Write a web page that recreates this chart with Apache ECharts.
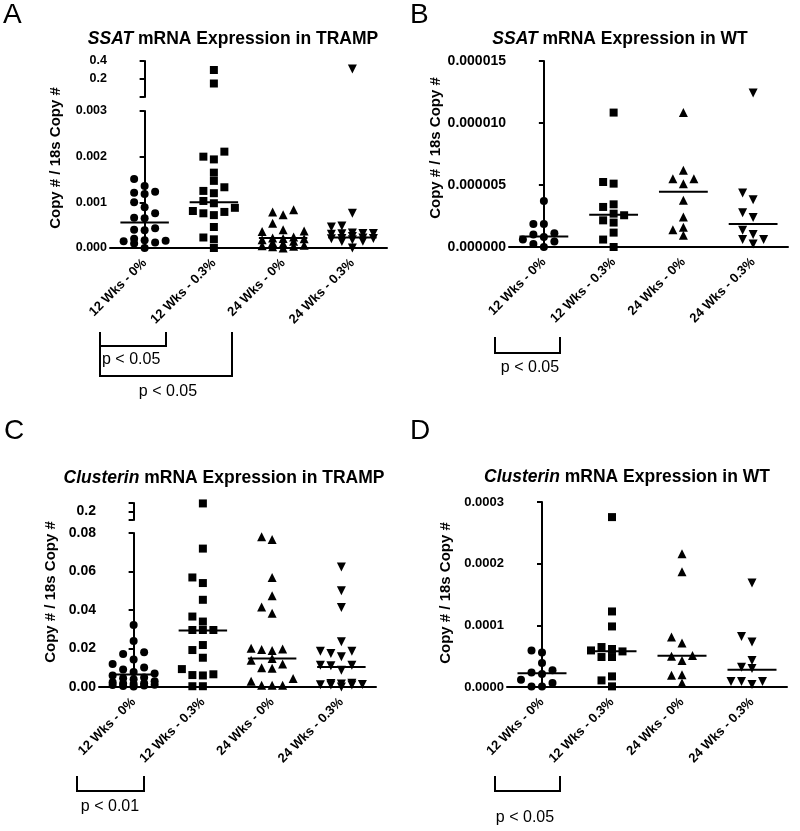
<!DOCTYPE html>
<html>
<head>
<meta charset="utf-8">
<title>SSAT and Clusterin mRNA expression</title>
<script src="https://cdn.jsdelivr.net/npm/echarts@6/dist/echarts.min.js"></script>
<style>
  html, body { margin: 0; padding: 0; background: #fff; }
  #chart { width: 800px; height: 831px; }
</style>
</head>
<body>
<div id="chart"></div>
<script>
const categories = ['12 Wks - 0%', '12 Wks - 0.3%', '24 Wks - 0%', '24 Wks - 0.3%'];

// A - SSAT in TRAMP
const ssatTramp12w0 = [0.00151, 0.00136, 0.00123, 0.00121, 0.00118, 0.00100, 0.00089, 0.00076, 0.00066, 0.00065,
  0.00043, 0.00040, 0.00039, 0.00020, 0.00017, 0.00016, 0.00015, 0.00012, 0.00010, 0.0];
const ssatTramp12w03 = [0.30, 0.15, 0.00211, 0.00200, 0.00194, 0.00165, 0.00147, 0.00133, 0.00125, 0.00120,
  0.00103, 0.00098, 0.00088, 0.00081, 0.00079, 0.00076, 0.00072, 0.00046, 0.00023, 0.00019, 0.0];
const ssatTramp24w0 = [0.00084, 0.00079, 0.00073, 0.00054, 0.00040, 0.00037, 0.00036, 0.00024, 0.00022, 0.00021,
  0.00020, 0.00018, 0.00015, 0.00012, 0.00010, 0.00006, 0.00005, 0.00004, 0.00003, 0.0];
const ssatTramp24w03 = [0.31, 0.00076, 0.00048, 0.00046, 0.00033, 0.00032, 0.00032, 0.00031, 0.00030, 0.00025,
  0.00022, 0.00021, 0.00021, 0.00020, 0.00018, 0.00015, 0.00014, 0.0];
const ssatTrampMedian = [0.00056, 0.00100, 0.00022, 0.00023];

// B - SSAT in WT
const ssatWt12w0 = [0.0000037, 0.00000185, 0.00000185, 0.0000011, 0.0000010, 0.0000008, 0.0000006, 0.00000045, 0.00000025, 0.0];
const ssatWt12w03 = [0.00001084, 0.00000524, 0.00000511, 0.00000344, 0.00000323, 0.00000269, 0.00000256, 0.00000215,
  0.00000197, 0.00000116, 0.0000006, 0.0];
const ssatWt24w0 = [0.00001084, 0.00000618, 0.0000055, 0.0000055, 0.0000051, 0.00000377, 0.00000242, 0.0000016, 0.0000014, 0.00000094];
const ssatWt24w03 = [0.00001242, 0.00000435, 0.00000382, 0.00000277, 0.00000237, 0.00000135, 0.0000010, 0.0000006, 0.0000006, 0.00000025];
const ssatWtMedian = [0.00000085, 0.0000026, 0.00000445, 0.00000185];

// C - Clusterin in TRAMP
const clusTramp12w0 = [0.0322, 0.0239, 0.0180, 0.0171, 0.0143, 0.0119, 0.0101, 0.0091, 0.0078, 0.0070, 0.0060, 0.0050,
  0.0045, 0.0040, 0.0030, 0.0025, 0.0020, 0.0018, 0.0015, 0.0012, 0.0010, 0.0008, 0.0005, 0.0003];
const clusTramp12w03 = [0.295, 0.0719, 0.0569, 0.0540, 0.0453, 0.0366, 0.0340, 0.0296, 0.0296, 0.0296, 0.0218, 0.0192,
  0.0152, 0.0093, 0.0066, 0.0062, 0.0060, 0.0004, 0.0004];
const clusTramp24w0 = [0.0780, 0.0766, 0.0569, 0.0474, 0.0415, 0.0383, 0.0201, 0.0198, 0.0195, 0.0190, 0.0148, 0.0139,
  0.0119, 0.0100, 0.0098, 0.0044, 0.0030, 0.0009, 0.0009, 0.0009];
const clusTramp24w03 = [0.0623, 0.0500, 0.0413, 0.0235, 0.0186, 0.0186, 0.0174, 0.0157, 0.0113, 0.0113, 0.0111, 0.0087,
  0.0020, 0.0018, 0.0015, 0.0013, 0.0012, 0.0011, 0.0010, 0.0];
const clusTrampMedian = [0.0065, 0.0293, 0.0148, 0.0104];

// D - Clusterin in WT
const clusWt12w0 = [0.0000593, 0.000056, 0.000039, 0.000027, 0.0000237, 0.000021, 0.0000118, 0.0000065, 0.000001, 0.000001];
const clusWt12w03 = [0.0002755, 0.0001225, 0.0000982, 0.0000648, 0.0000616, 0.0000593, 0.0000577, 0.0000486, 0.0000486,
  0.0000172, 0.0000107, 0.000001];
const clusWt24w0 = [0.000216, 0.000187, 0.000081, 0.0000713, 0.000051, 0.00005, 0.000043, 0.00002, 0.000019, 0.0000065];
const clusWt24w03 = [0.0001686, 0.000082, 0.000073, 0.000043, 0.000032, 0.00003, 0.000009, 0.000009, 0.000009, 0.000004];
const clusWtMedian = [0.0000225, 0.000058, 0.0000505, 0.000028];

const FONT = '"Liberation Sans", Arial, Helvetica, sans-serif';
const symbols = ['circle', 'rect', 'triangle', 'triangle'];
const rotations = [0, 0, 0, 180];
const sizes = [8, 8, 9, 9];

// y segments listed bottom first; a second entry is the part above the axis break
const panels = [
  {
    groups: [ssatTramp12w0, ssatTramp12w03, ssatTramp24w0, ssatTramp24w03], medians: ssatTrampMedian, labelSize: 12.5,
    segs: [
      { left: 110, top: 111, width: 277, height: 137, min: 0, max: 0.003, interval: 0.001, fmt: v => v.toFixed(3) },
      { left: 110, top: 61, width: 277, height: 36, min: 0, max: 0.4, interval: 0.2, fmt: v => (v === 0 ? '' : v.toFixed(1)) }
    ]
  },
  {
    groups: [ssatWt12w0, ssatWt12w03, ssatWt24w0, ssatWt24w03], medians: ssatWtMedian, labelSize: 14,
    segs: [
      { left: 509, top: 61, width: 279, height: 186, min: 0, max: 0.000015, interval: 0.000005, fmt: v => v.toFixed(6) }
    ]
  },
  {
    groups: [clusTramp12w0, clusTramp12w03, clusTramp24w0, clusTramp24w03], medians: clusTrampMedian, labelSize: 14,
    segs: [
      { left: 99, top: 533, width: 277, height: 154, min: 0, max: 0.08, interval: 0.02, fmt: v => v.toFixed(2) },
      { left: 99, top: 503, width: 277, height: 17, min: 0.1, max: 0.3, interval: 0.1, fmt: v => (Math.abs(v - 0.2) < 1e-9 ? '0.2' : '') }
    ]
  },
  {
    groups: [clusWt12w0, clusWt12w03, clusWt24w0, clusWt24w03], medians: clusWtMedian, labelSize: 13,
    segs: [
      { left: 507, top: 502, width: 280, height: 185, min: 0, max: 0.0003, interval: 0.0001, fmt: v => v.toFixed(4) }
    ]
  }
];

// spread points that would overlap sideways, like a dot plot (at most two columns each side)
function swarm(vals, min, max, hPx, bandPx) {
  const step = 10.5, gap = 8;
  const cand = [0, -1, 1, -2, 2];
  const order = vals.map((v, i) => i).sort((a, b) => vals[a] - vals[b]);
  const placed = [];
  const out = new Array(vals.length);
  order.forEach(i => {
    const py = (vals[i] - min) / (max - min) * hPx;
    let best = 0, bestD = -1;
    for (const m of cand) {
      const px = m * step;
      let d = Infinity;
      placed.forEach(p => {
        if (Math.abs(p.px - px) < gap && Math.abs(p.py - py) < gap) d = Math.min(d, Math.hypot(p.px - px, p.py - py));
      });
      if (d === Infinity) { best = px; bestD = d; break; }
      if (d > bestD) { bestD = d; best = px; }
    }
    placed.push({ px: best, py });
    out[i] = best / bandPx;
  });
  return out;
}

const grids = [], xAxes = [], yAxes = [], series = [];

panels.forEach(p => {
  const segAxes = [];
  p.segs.forEach((s, k) => {
    const gi = grids.length;
    grids.push({ left: s.left, top: s.top, width: s.width, height: s.height });
    const yi = yAxes.length;
    yAxes.push({
      type: 'value', gridIndex: gi, min: s.min, max: s.max, interval: s.interval,
      axisLine: { show: true, lineStyle: { color: '#000', width: 2 } },
      axisTick: { show: true, length: 5, lineStyle: { color: '#000', width: 2 } },
      axisLabel: { color: '#000', fontWeight: 'bold', fontSize: p.labelSize, fontFamily: FONT, margin: 3, formatter: s.fmt },
      splitLine: { show: false }
    });
    if (k === 0) {
      xAxes.push({
        type: 'category', gridIndex: gi, data: categories,
        axisLine: { lineStyle: { color: '#000', width: 2 } },
        axisTick: { alignWithLabel: true, length: 5, lineStyle: { color: '#000', width: 1.5 } },
        axisLabel: { rotate: 45, interval: 0, margin: 13, color: '#000', fontWeight: 'bold', fontSize: 13, fontFamily: FONT }
      });
    }
    const xi = xAxes.length;
    xAxes.push({ type: 'value', gridIndex: gi, min: -0.5, max: 3.5, show: false });
    segAxes.push({ xi, yi, s });
  });

  const band = p.segs[0].width / 4;
  p.groups.forEach((vals, g) => {
    segAxes.forEach((seg, k) => {
      const lo = k === 0 ? -Infinity : p.segs[k - 1].max;
      const v = vals.filter(x => x > lo && x <= seg.s.max);
      if (!v.length) return;
      const off = swarm(v, seg.s.min, seg.s.max, seg.s.height, band);
      series.push({
        type: 'scatter', xAxisIndex: seg.xi, yAxisIndex: seg.yi,
        symbol: symbols[g], symbolRotate: rotations[g], symbolSize: sizes[g],
        itemStyle: { color: '#000', opacity: 1 }, clip: false,
        data: v.map((x, i) => [g + off[i], x])
      });
    });
  });

  // median bars
  series.push({
    type: 'custom', xAxisIndex: segAxes[0].xi, yAxisIndex: segAxes[0].yi, z: 3,
    data: p.medians.map((m, i) => [i, m]),
    renderItem: (params, api) => {
      const a = api.coord([api.value(0) - 0.35, api.value(1)]);
      const b = api.coord([api.value(0) + 0.35, api.value(1)]);
      return { type: 'line', shape: { x1: a[0], y1: a[1], x2: b[0], y2: b[1] }, style: { stroke: '#000', lineWidth: 2 } };
    }
  });
});

const titleStyle = {
  fontSize: 17.5, fontWeight: 'bold', fontFamily: FONT, color: '#000',
  rich: { i: { fontSize: 17.5, fontWeight: 'bold', fontStyle: 'italic', fontFamily: FONT, color: '#000' } }
};
const titles = [
  { text: '{i|SSAT} mRNA Expression in TRAMP', left: 228, top: 25, textAlign: 'center', textStyle: titleStyle },
  { text: '{i|SSAT} mRNA Expression in WT', left: 615, top: 25, textAlign: 'center', textStyle: titleStyle },
  { text: '{i|Clusterin} mRNA Expression in TRAMP', left: 219, top: 464, textAlign: 'center', textStyle: titleStyle },
  { text: '{i|Clusterin} mRNA Expression in WT', left: 622, top: 463, textAlign: 'center', textStyle: titleStyle }
];

function label(text, x, y, font, align) {
  return { type: 'text', x, y, style: { text, font, fill: '#000', textAlign: align || 'left', textVerticalAlign: 'middle' } };
}
function yName(x, y) {
  return {
    type: 'text', x, y, rotation: Math.PI / 2,
    style: { text: 'Copy # / 18s Copy #', font: 'bold 15px ' + FONT, fill: '#000', textAlign: 'center', textVerticalAlign: 'middle' }
  };
}
function bracket(points) {
  return { type: 'polyline', shape: { points }, style: { stroke: '#000', lineWidth: 2, fill: null } };
}
const pFont = '16px ' + FONT;
const letterFont = '28px ' + FONT;

const graphics = [
  label('A', 3, 15, letterFont), label('B', 410, 15, letterFont),
  label('C', 4, 431, letterFont), label('D', 410, 431, letterFont),
  yName(56, 158), yName(436, 148), yName(51, 592), yName(446, 593),
  bracket([[100, 332], [100, 346], [166, 346], [166, 332]]),
  bracket([[100, 346], [100, 376], [232, 376], [232, 332]]),
  label('p < 0.05', 102, 360, pFont), label('p < 0.05', 168, 392, pFont, 'center'),
  bracket([[495, 337], [495, 353], [560, 353], [560, 337]]),
  label('p < 0.05', 530, 368, pFont, 'center'),
  bracket([[77, 776], [77, 791], [144, 791], [144, 776]]),
  label('p < 0.01', 110, 807, pFont, 'center'),
  bracket([[495, 776], [495, 791], [560, 791], [560, 776]]),
  label('p < 0.05', 525, 818, pFont, 'center')
];

const chart = echarts.init(document.getElementById('chart'));
chart.setOption({
  animation: false,
  backgroundColor: '#fff',
  title: titles,
  grid: grids,
  xAxis: xAxes,
  yAxis: yAxes,
  series: series,
  graphic: graphics
});
</script>
</body>
</html>
